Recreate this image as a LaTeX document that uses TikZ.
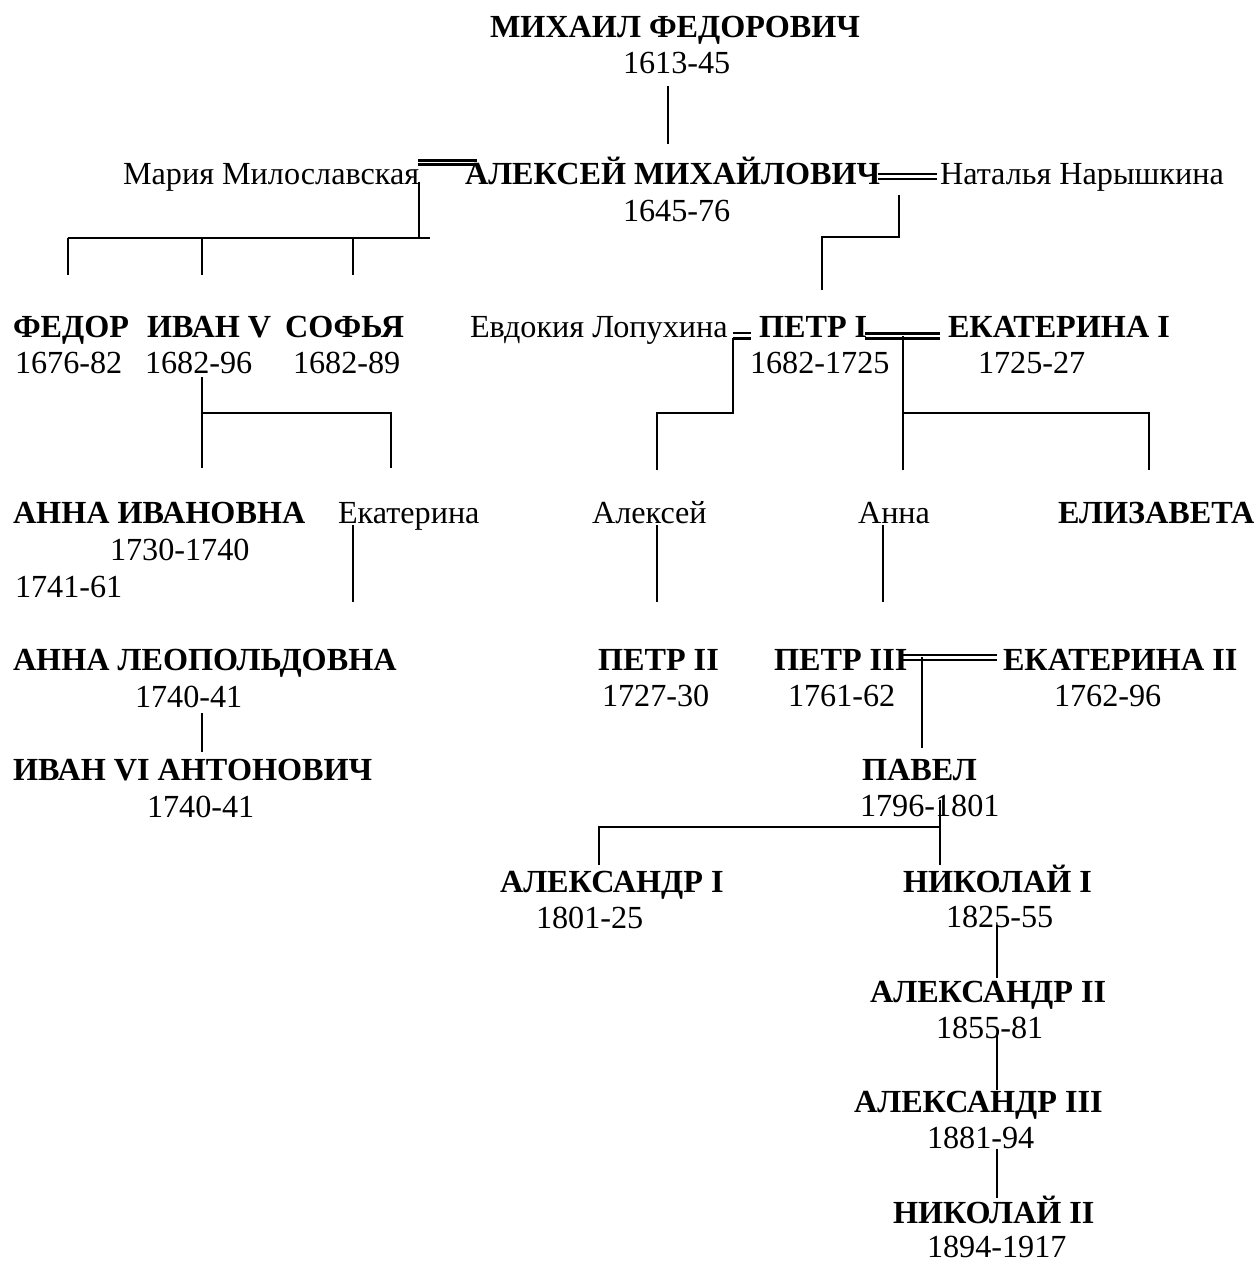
\documentclass[tikz,border=0pt]{standalone}
\usepackage{fontspec}
\setmainfont{Liberation Serif}
\begin{document}
\begin{tikzpicture}[x=0.5pt,y=-0.5pt,
  txt/.style={anchor=base west,inner sep=0pt,outer sep=0pt,font=\fontsize{16.1}{19}\selectfont},
  nm/.style={txt,font=\fontsize{16.1}{19}\selectfont\bfseries},
  ln/.style={line width=1pt,line cap=butt},
  dbl/.style={line width=1.2pt}]
\useasboundingbox (0,0) rectangle (1257,1261);
% ---- texts ----
\node[nm]  (mf)   at (490,38)  {МИХАИЛ ФЕДОРОВИЧ};
\node[txt] (mfd)  at (623,74)  {1613-45};
\node[txt] (mm)   at (123,185) {Мария Милославская};
\node[nm]  (am)   at (465,185) {АЛЕКСЕЙ МИХАЙЛОВИЧ};
\node[txt] (amd)  at (623,222) {1645-76};
\node[txt] (nn)   at (940,185) {Наталья Нарышкина};
\node[nm]  (fe)   at (13,338)  {ФЕДОР};
\node[txt] (fed)  at (15,374)  {1676-82};
\node[nm]  (i5)   at (147,338) {ИВАН V};
\node[txt] (i5d)  at (145,374) {1682-96};
\node[nm]  (so)   at (285,338) {СОФЬЯ};
\node[txt] (sod)  at (293,374) {1682-89};
\node[txt] (el)   at (470,338) {Евдокия Лопухина};
\node[nm]  (p1)   at (759,338) {ПЕТР I};
\node[txt] (p1d)  at (750,374) {1682-1725};
\node[nm]  (e1)   at (948,338) {ЕКАТЕРИНА I};
\node[txt] (e1d)  at (978,374) {1725-27};
\node[nm]  (ai)   at (13,523)  {АННА ИВАНОВНА};
\node[txt] (aid)  at (110,560) {1730-1740};
\node[txt] (aid2) at (15,597)  {1741-61};
\node[txt] (ek)   at (338,523) {Екатерина};
\node[txt] (al)   at (592,523) {Алексей};
\node[txt] (an)   at (858,523) {Анна};
\node[nm]  (eli)  at (1058,523) {ЕЛИЗАВЕТА};
\node[nm]  (alp)  at (13,670)  {АННА ЛЕОПОЛЬДОВНА};
\node[txt] (alpd) at (135,707) {1740-41};
\node[nm]  (i6)   at (13,780)  {ИВАН VI АНТОНОВИЧ};
\node[txt] (i6d)  at (147,817) {1740-41};
\node[nm]  (p2)   at (598,670) {ПЕТР II};
\node[txt] (p2d)  at (602,706) {1727-30};
\node[nm]  (p3)   at (774,670) {ПЕТР III};
\node[txt] (p3d)  at (788,706) {1761-62};
\node[nm]  (e2)   at (1003,670) {ЕКАТЕРИНА II};
\node[txt] (e2d)  at (1054,706) {1762-96};
\node[nm]  (pa)   at (862,780) {ПАВЕЛ};
\node[txt] (pad)  at (860,816) {1796-1801};
\node[nm]  (a1)   at (500,892) {АЛЕКСАНДР I};
\node[txt] (a1d)  at (536,928) {1801-25};
\node[nm]  (n1)   at (903,892) {НИКОЛАЙ I};
\node[txt] (n1d)  at (946,927) {1825-55};
\node[nm]  (a2)   at (870,1002) {АЛЕКСАНДР II};
\node[txt] (a2d)  at (936,1038) {1855-81};
\node[nm]  (a3)   at (854,1112) {АЛЕКСАНДР III};
\node[txt] (a3d)  at (927,1148) {1881-94};
\node[nm]  (n2)   at (893,1223) {НИКОЛАЙ II};
\node[txt] (n2d)  at (927,1257) {1894-1917};
% ---- junction coordinates ----
\coordinate (mfB) at (668,86);   \coordinate (amT) at (668,144);
\coordinate (mmL) at (418,160.5); \coordinate (mmR) at (477,160.5);
\coordinate (mmL2) at (418,164.5); \coordinate (mmR2) at (477,164.5);
\coordinate (mmV) at (419,182);  \coordinate (mmJ) at (419,238);
\coordinate (hL) at (68,238);    \coordinate (hR) at (430,238);
\coordinate (c1) at (68,275);    \coordinate (c1t) at (68,238);
\coordinate (c2) at (202,275);   \coordinate (c2t) at (202,238);
\coordinate (c3) at (353,275);   \coordinate (c3t) at (353,238);
\coordinate (nnL) at (878,174);  \coordinate (nnR) at (937,174);
\coordinate (nnL2) at (878,179); \coordinate (nnR2) at (937,179);
\coordinate (nnV) at (899,195);  \coordinate (nnJ) at (899,237);
\coordinate (p1J) at (822,237);  \coordinate (p1T) at (822,290);
\coordinate (i5B) at (202,377);  \coordinate (i5J) at (202,413);
\coordinate (ekJ) at (391,413);  \coordinate (aiT) at (202,468); \coordinate (ekT) at (391,468);
\coordinate (elL) at (733,333);  \coordinate (elR) at (751,333);
\coordinate (elL2) at (733,338.5); \coordinate (elR2) at (751,338.5);
\coordinate (elJ) at (733,413);  \coordinate (alJ) at (657,413); \coordinate (alT) at (657,470);
\coordinate (e1L) at (865,333.5); \coordinate (e1R) at (940,333.5);
\coordinate (e1L2) at (865,338.5); \coordinate (e1R2) at (940,338.5);
\coordinate (e1V) at (903,336);  \coordinate (e1J) at (903,413); \coordinate (anT) at (903,470);
\coordinate (eliJ) at (1149,413); \coordinate (eliT) at (1149,470);
\coordinate (ekB) at (353,525);  \coordinate (alpT) at (353,602);
\coordinate (alB) at (657,525);  \coordinate (p2T) at (657,602);
\coordinate (anB) at (883,525);  \coordinate (p3T) at (883,602);
\coordinate (alpB) at (202,713); \coordinate (i6T) at (202,752);
\coordinate (p3L) at (903,655);  \coordinate (p3R) at (997,655);
\coordinate (p3L2) at (903,660); \coordinate (p3R2) at (997,660);
\coordinate (p3V) at (922,657);  \coordinate (paT) at (922,748);
\coordinate (paB) at (940,800);  \coordinate (paJ) at (940,827);
\coordinate (n1T) at (940,865);  \coordinate (a1J) at (599,827); \coordinate (a1T) at (599,865);
\coordinate (n1B) at (997,925);  \coordinate (a2T) at (997,978);
\coordinate (a2B) at (997,1035); \coordinate (a3T) at (997,1090);
\coordinate (a3B) at (997,1149); \coordinate (n2T) at (997,1198);
% ---- connectors ----
\draw[ln] (mfB) -- (amT);
\draw[dbl] (mmL) -- (mmR) (mmL2) -- (mmR2);
\draw[ln] (mmV) -- (mmJ);
\draw[ln] (hL) -- (hR);
\draw[ln] (c1t) -- (c1) (c2t) -- (c2) (c3t) -- (c3);
\draw[dbl] (nnL) -- (nnR) (nnL2) -- (nnR2);
\draw[ln] (nnV) -- (nnJ) -- (p1J) -- (p1T);
\draw[ln] (i5B) -- (aiT) (i5J) -- (ekJ) -- (ekT);
\draw[dbl] (elL) -- (elR) (elL2) -- (elR2);
\draw[ln] (elL2) -- (elJ) -- (alJ) -- (alT);
\draw[dbl] (e1L) -- (e1R) (e1L2) -- (e1R2);
\draw[ln] (e1V) -- (anT) (e1J) -- (eliJ) -- (eliT);
\draw[ln] (ekB) -- (alpT);
\draw[ln] (alB) -- (p2T);
\draw[ln] (anB) -- (p3T);
\draw[ln] (alpB) -- (i6T);
\draw[dbl] (p3L) -- (p3R) (p3L2) -- (p3R2);
\draw[ln] (p3V) -- (paT);
\draw[ln] (paB) -- (n1T) (paJ) -- (a1J) -- (a1T);
\draw[ln] (n1B) -- (a2T);
\draw[ln] (a2B) -- (a3T);
\draw[ln] (a3B) -- (n2T);
\end{tikzpicture}
\end{document}
